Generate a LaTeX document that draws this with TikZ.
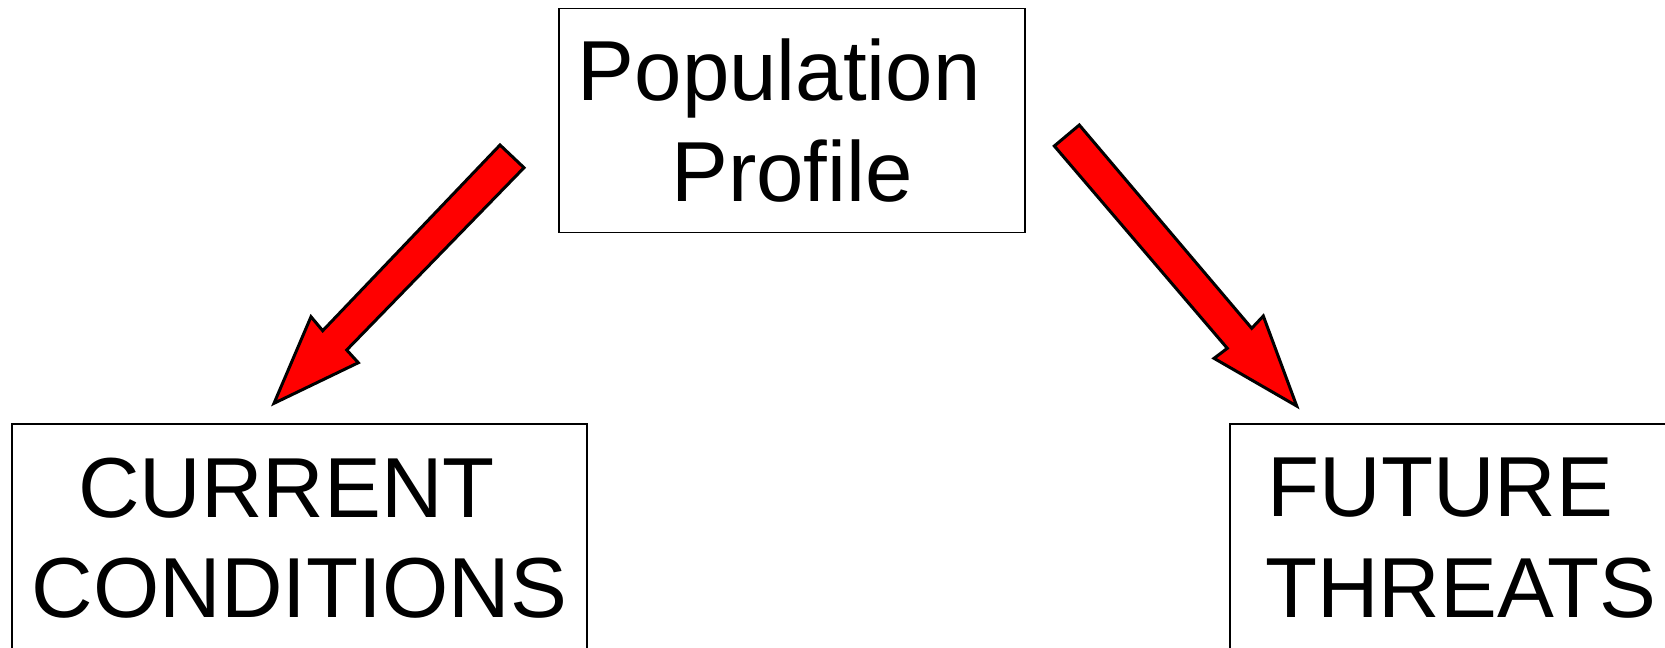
\documentclass[tikz,border=0pt]{standalone}
\usepackage{fontspec}
\setmainfont{Liberation Sans}

\tikzset{
  box/.style={draw, line width=0.035cm, align=center, inner sep=0pt,
    font=\fontsize{48.5}{57.2}\selectfont},
  redarrow/.style={draw, fill=red, line width=0.06cm, line join=miter, miter limit=10}
}

\begin{document}
\begin{tikzpicture}[x=0.02cm, y=-0.02cm]
			\useasboundingbox (0,0) rectangle (1665,647);
			%%%%% START %%%%%
			\node[box, minimum width=9.33cm, minimum height=4.48cm] (profile) at (792,120.5) {Population\hspace*{.3em}\\Profile};
			\node[box, minimum width=11.51cm, minimum height=4.58cm] (current) at (299.4,538.3) {CURRENT\hspace*{.3em}\\CONDITIONS};
			\node[box, minimum width=9.25cm, minimum height=4.58cm] (future) at (1461,538.3) {FUTURE\hspace*{.48em}\\THREATS};
			
			\draw[redarrow] (500,145) -- (524,167.7) -- (346.7,350) -- (358.3,362.7) -- (274,403.3) -- (311,316.7) -- (322.7,330.7) -- cycle;
			\draw[redarrow] (1079.3,125) -- (1054.3,146) -- (1227.3,348.3) -- (1214,358.3) -- (1296.7,406) -- (1263.3,316) -- (1251.7,328.3) -- cycle;
			%%%%% END %%%%%
\end{tikzpicture}
\end{document}
